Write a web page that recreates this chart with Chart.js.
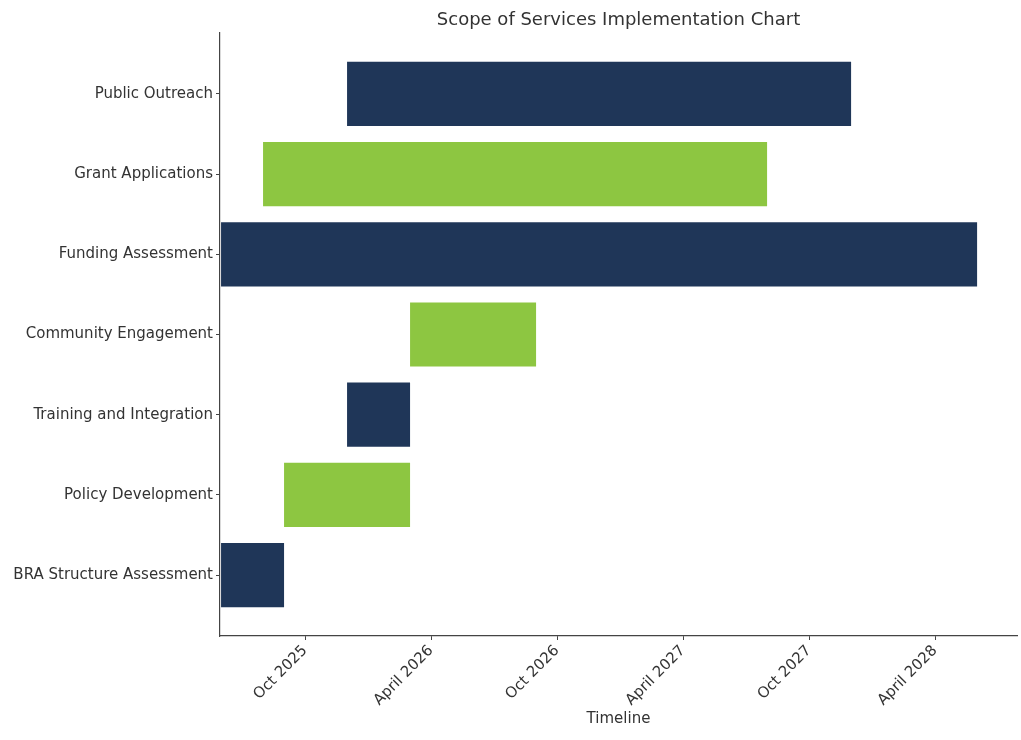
<!DOCTYPE html>
<html>
<head>
<meta charset="utf-8">
<script src="https://cdn.jsdelivr.net/npm/chart.js@4/dist/chart.umd.min.js"></script>
<style>
  html, body { margin: 0; padding: 0; background: #ffffff; }
  #wrap { width: 1021px; height: 740px; position: relative; }
</style>
</head>
<body>
<div id="wrap"><canvas id="c" width="1021" height="740"></canvas></div>
<script>
// ---- data (months as "YYYY-MM") ----
const tasks = ["BRA Structure Assessment", "Policy Development", "Training and Integration",
               "Community Engagement", "Funding Assessment", "Grant Applications", "Public Outreach"];
const startDates = ["2025-06", "2025-09", "2025-12", "2026-03", "2025-06", "2025-08", "2025-12"];
const endDates   = ["2025-09", "2026-03", "2026-03", "2026-09", "2028-06", "2027-08", "2027-12"];
const barColors  = ["#1f3658", "#8dc641", "#1f3658", "#8dc641", "#1f3658", "#8dc641", "#1f3658"];
const tickDates  = ["2025-10", "2026-04", "2026-10", "2027-04", "2027-10", "2028-04"];
const tickLabels = ["Oct 2025", "April 2026", "Oct 2026", "April 2027", "Oct 2027", "April 2028"];
const axisStart = "2025-06";
const axisEnd   = "2028-08";
const chartTitle = "Scope of Services Implementation Chart";
const xTitle = "Timeline";

// month number since Jan 2025
function m(s) { const [y, mo] = s.split("-").map(Number); return (y - 2025) * 12 + (mo - 1); }

const dataPts = tasks.map((t, i) => ({ x: [m(startDates[i]), m(endDates[i])], y: i }));

const FONT = "'DejaVu Sans', sans-serif";

const titlePlugin = {
  id: 'areaTitle',
  afterDraw(chart) {
    const ctx = chart.ctx, a = chart.chartArea;
    ctx.save();
    ctx.font = "18px " + FONT;
    ctx.fillStyle = "#333333";
    ctx.textAlign = "center";
    ctx.textBaseline = "middle";
    ctx.fillText(chartTitle, (a.left + a.right) / 2, 20);
    ctx.restore();
  }
};

new Chart(document.getElementById('c'), {
  type: 'bar',
  data: {
    datasets: [{
      data: dataPts,
      backgroundColor: barColors,
      borderWidth: 0,
      borderSkipped: false,
      barPercentage: 1.0,
      categoryPercentage: 0.8
    }]
  },
  options: {
    indexAxis: 'y',
    responsive: false,
    animation: false,
    devicePixelRatio: 1,
    layout: { padding: { top: 33, right: 4, left: 0, bottom: 0 } },
    plugins: { legend: { display: false }, tooltip: { enabled: false }, title: { display: false } },
    scales: {
      x: {
        type: 'linear',
        offset: false,
        min: m(axisStart) - 0.05,
        max: m(axisEnd) - 0.1,
        afterBuildTicks(scale) { scale.ticks = tickDates.map(d => ({ value: m(d) })); },
        afterFit(scale) { scale.height = 104; },
        ticks: {
          autoSkip: false,
          minRotation: 45, maxRotation: 45,
          padding: 2,
          color: "#333333",
          font: { family: FONT, size: 15 },
          callback(v) { const i = tickDates.findIndex(d => m(d) === v); return i >= 0 ? tickLabels[i] : ""; }
        },
        grid: { offset: false, drawOnChartArea: false, drawTicks: true, tickLength: 4, color: "#444444" },
        border: { color: "#444444", width: 1.2 },
        title: { display: true, text: xTitle, color: "#333333", font: { family: FONT, size: 15 }, padding: { top: 0, bottom: 12 } }
      },
      y: {
        type: 'linear',
        offset: false,
        min: -0.76, max: 6.76,
        afterBuildTicks(scale) { scale.ticks = tasks.map((t, i) => ({ value: i })); },
        afterFit(scale) { scale.width = 220; },
        ticks: {
          autoSkip: false,
          padding: 3,
          color: "#333333",
          font: { family: FONT, size: 15 },
          callback(v) { return tasks[v] !== undefined ? tasks[v] : ""; }
        },
        grid: { offset: false, drawOnChartArea: false, drawTicks: true, tickLength: 4, color: "#444444" },
        border: { color: "#444444", width: 1.2 }
      }
    }
  },
  plugins: [titlePlugin]
});
</script>
</body>
</html>
